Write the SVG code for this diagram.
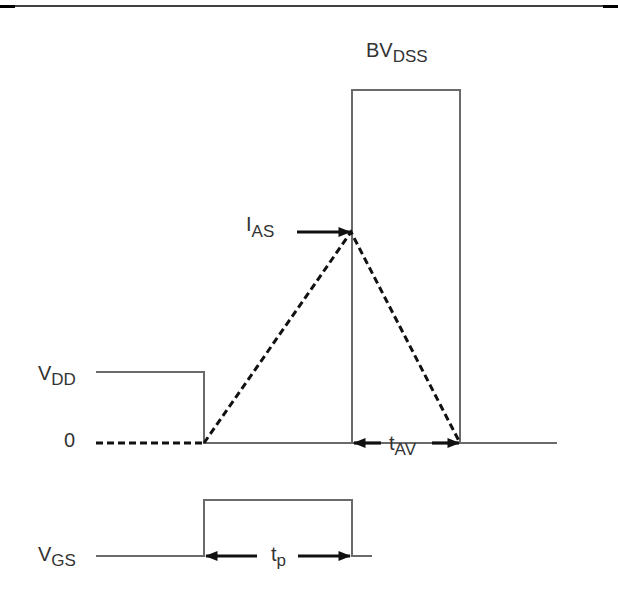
<svg xmlns="http://www.w3.org/2000/svg" width="618" height="592" viewBox="0 0 618 592">
<style>
.w{fill:none;stroke:#6a6a6a;stroke-width:2}
.d{fill:none;stroke:#111;stroke-width:3;stroke-dasharray:7 4}
.a{fill:none;stroke:#111;stroke-width:3.2}
text{font-family:"Liberation Sans",Arial,sans-serif;fill:#333;font-size:20px}
.s{font-size:17px}
</style>
<defs>
<marker id="ah" viewBox="0 0 10 10" refX="9" refY="5" markerWidth="4" markerHeight="4" orient="auto" markerUnits="strokeWidth">
<path d="M0,1 L10,5 L0,9 z" fill="#111"/>
</marker>
</defs>
<rect width="618" height="592" fill="#fff"/>
<g id="top-rule">
<line x1="0" y1="6" x2="618" y2="6" stroke="#000" stroke-width="1.5"/>
<line x1="0" y1="6.5" x2="15" y2="6.5" stroke="#000" stroke-width="3"/>
<line x1="603" y1="6.5" x2="618" y2="6.5" stroke="#000" stroke-width="3"/>
</g>
<g id="waveforms">
<path class="w" d="M96,372 H204 V443 H557"/>
<path class="w" d="M352,443 V90 H460 V443"/>
<path class="w" d="M96,556 H204 V500 H352 V556 H372"/>
</g>
<g id="connectors">
<path class="d" d="M96,443 H204"/>
<path class="d" d="M204,443 L351,232 L460,443"/>
<line class="a" x1="297" y1="232" x2="350" y2="232" marker-end="url(#ah)"/>
<line class="a" x1="381" y1="443" x2="354" y2="443" marker-end="url(#ah)"/>
<line class="a" x1="432" y1="443" x2="459" y2="443" marker-end="url(#ah)"/>
<line class="a" x1="257" y1="556" x2="206" y2="556" marker-end="url(#ah)"/>
<line class="a" x1="298" y1="556" x2="350" y2="556" marker-end="url(#ah)"/>
</g>
<g id="labels">
<text x="366" y="57">BV<tspan class="s" dy="5">DSS</tspan></text>
<text x="246" y="231">I<tspan class="s" dy="6">AS</tspan></text>
<text x="38" y="380">V<tspan class="s" dy="5">DD</tspan></text>
<text x="64" y="447">0</text>
<text x="389" y="450">t<tspan class="s" dy="5">AV</tspan></text>
<text x="38" y="561">V<tspan class="s" dy="5">GS</tspan></text>
<text x="271" y="561">t<tspan class="s" dy="5">p</tspan></text>
</g>
</svg>
